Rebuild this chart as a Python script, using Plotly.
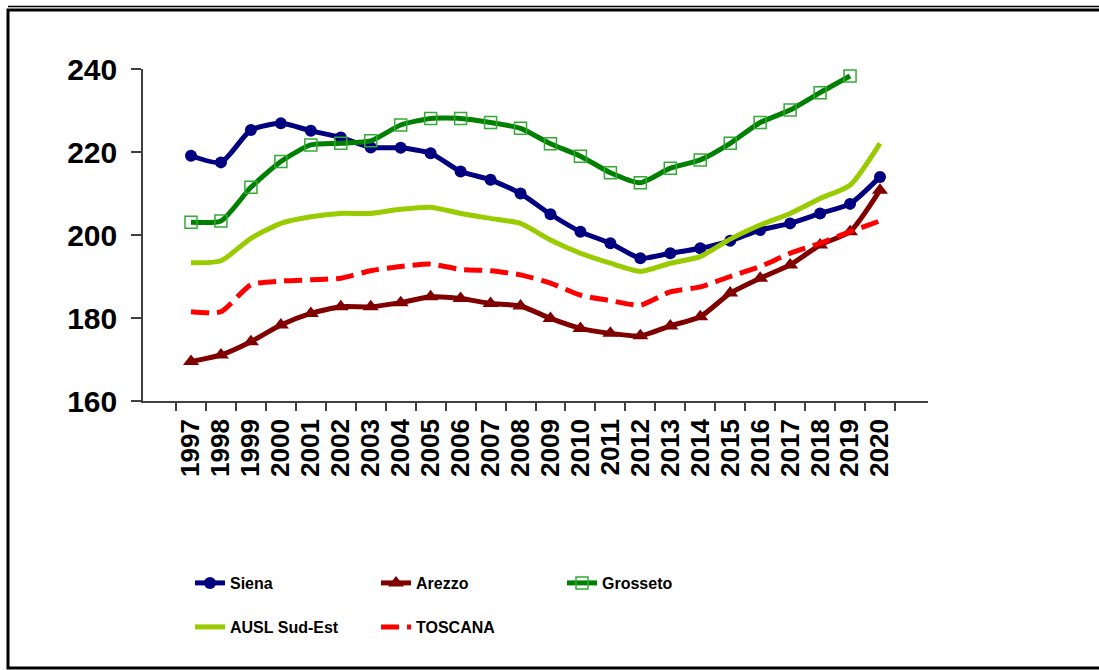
import plotly.graph_objects as go

years = [str(y) for y in range(1997, 2021)]

siena = [219.1, 217.5, 225.3, 226.9, 225.1, 223.5, 221.1, 221.0, 219.7, 215.3, 213.3, 210.0,
         205.0, 200.8, 198.0, 194.4, 195.6, 196.8, 198.6, 201.2, 202.8, 205.2, 207.5, 214.0]
arezzo = [169.5, 171.1, 174.3, 178.3, 181.1, 182.7, 182.7, 183.7, 185.1, 184.7, 183.5, 182.9,
          179.9, 177.5, 176.3, 175.7, 178.1, 180.3, 186.0, 189.6, 192.8, 197.6, 200.8, 210.8]
grosseto = [203.1, 203.4, 211.5, 217.7, 221.7, 222.1, 222.7, 226.5, 228.1, 228.1, 227.1, 225.7,
            222.0, 219.0, 215.0, 212.6, 216.1, 218.1, 222.1, 227.1, 230.1, 234.3, 238.3, None]
ausl = [193.3, 193.8, 199.2, 202.8, 204.4, 205.2, 205.2, 206.2, 206.7, 205.2, 204.0, 202.8,
        198.8, 195.6, 193.2, 191.2, 193.2, 194.8, 199.0, 202.4, 205.2, 208.8, 212.0, 222.1]
toscana = [181.5, 181.5, 188.0, 188.9, 189.2, 189.6, 191.4, 192.4, 193.0, 191.7, 191.4, 190.4,
           188.4, 185.5, 184.2, 183.1, 186.3, 187.5, 190.0, 192.4, 195.6, 198.0, 200.8, 203.4]

y_ticks = [160, 180, 200, 220, 240]

W, H = 1099, 670
L, T = 143, 69
R = W - 928
B = H - 401
PW, PH = W - L - R, H - T - B

def px_x(p):
    return (p - L) / PW

def px_y(p):
    return (H - B - p) / PH

fig = go.Figure()
spl = dict(shape="spline", smoothing=0.6)

fig.add_trace(go.Scatter(x=years, y=siena, name="Siena", mode="lines+markers",
                         line=dict(color="#000080", width=5, **spl),
                         marker=dict(symbol="circle", size=12, color="#000080"),
                         legend="legend"))
fig.add_trace(go.Scatter(x=years, y=arezzo, name="Arezzo", mode="lines+markers",
                         line=dict(color="#800000", width=5, **spl),
                         marker=dict(symbol="triangle-up", size=14, color="#800000"),
                         legend="legend"))
fig.add_trace(go.Scatter(x=years, y=grosseto, name="Grosseto", mode="lines+markers",
                         line=dict(color="#008000", width=5, **spl),
                         marker=dict(symbol="square-open", size=12, color="#33AA33",
                                     line=dict(width=1.5, color="#33AA33")),
                         legend="legend"))
fig.add_trace(go.Scatter(x=years, y=ausl, name="AUSL Sud-Est", mode="lines",
                         line=dict(color="#99CC00", width=5, **spl),
                         legend="legend2"))
fig.add_trace(go.Scatter(x=years, y=toscana, name="TOSCANA", mode="lines",
                         line=dict(color="#FF0000", width=5, dash="18px,8px", **spl),
                         legend="legend2"))

axis_col = "#404040"
tickfont_y = dict(family="Liberation Sans, Arial, sans-serif", size=30, color="black", weight="bold")
tickfont_x = dict(family="Liberation Sans, Arial, sans-serif", size=26, color="black", weight="bold")
legfont = dict(family="Liberation Sans, Arial, sans-serif", size=16, color="black", weight="bold")

fig.update_layout(
    width=W, height=H,
    margin=dict(l=L, r=R, t=T, b=B),
    paper_bgcolor="white", plot_bgcolor="white",
    xaxis=dict(type="category", tickson="boundaries", tickmode="linear", tick0=0, dtick=1,
               ticks="outside", ticklen=8,
               tickcolor=axis_col, tickwidth=1.5, showline=True, linecolor=axis_col,
               linewidth=1.5, showgrid=False, zeroline=False, tickangle=-90,
               tickfont=tickfont_x, ticklabelstandoff=6),
    yaxis=dict(range=[160, 240], tickvals=y_ticks, ticks="outside", ticklen=10,
               tickcolor=axis_col, tickwidth=1.5, showline=True, linecolor=axis_col,
               linewidth=1.5, showgrid=False, zeroline=False, tickfont=tickfont_y,
               ticklabelstandoff=8),
    legend=dict(orientation="h", x=px_x(190), y=px_y(583), xanchor="left", yanchor="middle",
                entrywidth=141, entrywidthmode="pixels", font=legfont,
                bgcolor="rgba(0,0,0,0)", itemwidth=30),
    legend2=dict(orientation="h", x=px_x(190), y=px_y(627), xanchor="left", yanchor="middle",
                 entrywidth=141, entrywidthmode="pixels", font=legfont,
                 bgcolor="rgba(0,0,0,0)", itemwidth=30),
    showlegend=True,
)

# outer frame
fig.add_shape(type="rect", xref="paper", yref="paper",
              x0=px_x(8), x1=px_x(1130), y0=px_y(668), y1=px_y(10),
              line=dict(color="black", width=3), layer="below")
fig.add_shape(type="line", xref="paper", yref="paper",
              x0=px_x(8), x1=px_x(1130), y0=px_y(6.5), y1=px_y(6.5),
              line=dict(color="black", width=1.5), layer="below")

fig.write_html("out.html", config={"displayModeBar": False},
               post_script="document.body.style.margin='0';document.body.style.overflow='hidden';")
